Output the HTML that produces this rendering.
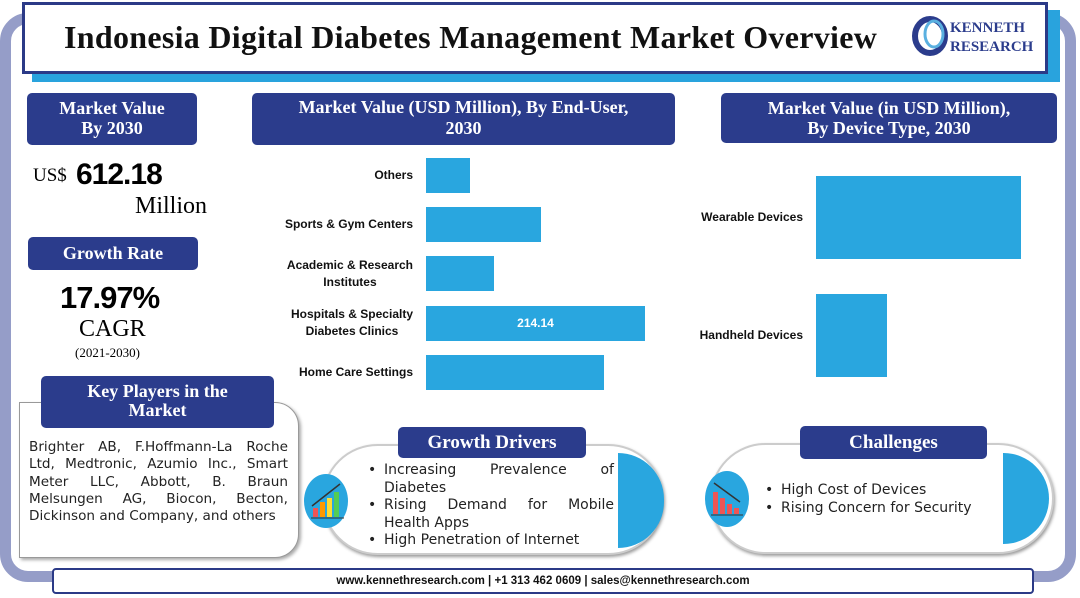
<!DOCTYPE html>
<html><head><meta charset="utf-8">
<style>
*{box-sizing:border-box;margin:0;padding:0}
body{width:1080px;height:598px;background:#fff;position:relative;overflow:hidden;font-family:"Liberation Sans",sans-serif}
.abs{position:absolute}
.navy{background:#2b3c8c;color:#fff;font-family:"Liberation Serif",serif;font-weight:bold;text-align:center;border-radius:5px}
.serif{font-family:"Liberation Serif",serif}
.lbl{position:absolute;font-size:12px;font-weight:bold;color:#111;text-align:right;line-height:17px}
.bar{position:absolute;background:#29a6df}
ul{list-style:none}
li{position:relative;padding-left:18px}
li:before{content:"•";position:absolute;left:2px}
</style></head><body>
<div class="abs" style="left:0;top:13px;width:1076px;height:569px;border:11px solid #959dc8;border-radius:28px"></div>
<div class="abs" style="left:32px;top:10px;width:1028px;height:72px;background:#29a3dd"></div>
<div class="abs" style="left:22px;top:2px;width:1026px;height:72px;background:#fff;border:3px solid #2b3a87"></div>
<div class="abs serif" style="left:64px;top:19px;font-size:32px;font-weight:bold;color:#111;letter-spacing:0.3px;white-space:nowrap">Indonesia Digital Diabetes Management Market Overview</div>
<svg class="abs" style="left:910px;top:15px" width="40" height="42"><ellipse cx="20" cy="21" rx="15" ry="17" fill="none" stroke="#2b3c8c" stroke-width="6"/><ellipse cx="24" cy="19" rx="9" ry="13" fill="none" stroke="#5ab0e0" stroke-width="3"/></svg>
<div class="abs serif" style="left:950px;top:19px;font-size:15px;font-weight:bold;color:#2b3c8c;line-height:19px">KENNETH<br>RESEARCH</div>

<div class="abs navy" style="left:27px;top:93px;width:170px;height:52px;font-size:18px;line-height:20px;padding-top:5px">Market Value<br>By 2030</div>
<div class="abs serif" style="left:33px;top:165px;font-size:19px">US$</div>
<div class="abs" style="left:76px;top:158px;font-size:30px;font-weight:bold;letter-spacing:-1px">612.18</div>
<div class="abs serif" style="left:135px;top:193px;font-size:24px">Million</div>
<div class="abs navy" style="left:28px;top:237px;width:170px;height:33px;font-size:18px;line-height:33px">Growth Rate</div>
<div class="abs" style="left:60px;top:280px;font-size:31px;font-weight:bold;letter-spacing:-1px">17.97%</div>
<div class="abs serif" style="left:79px;top:316px;font-size:24px">CAGR</div>
<div class="abs serif" style="left:75px;top:345px;font-size:13px">(2021-2030)</div>

<div class="abs" style="left:19px;top:402px;width:280px;height:156px;border:1.5px solid #999;border-radius:0 24px 24px 0;box-shadow:2px 2px 3px #aaa;background:#fff"></div>
<div class="abs navy" style="left:41px;top:376px;width:233px;height:52px;font-size:18px;line-height:19px;padding-top:6px">Key Players in the<br>Market</div>
<div class="abs" style="left:29px;top:439px;width:259px;font-family:'DejaVu Sans',sans-serif;font-size:13.6px;line-height:17.3px;text-align:justify;color:#222">Brighter AB, F.Hoffmann-La Roche Ltd, Medtronic, Azumio Inc., Smart Meter LLC, Abbott, B. Braun Melsungen AG, Biocon, Becton, Dickinson and Company, and others</div>

<div class="abs navy" style="left:252px;top:93px;width:423px;height:52px;font-size:18px;line-height:21px;padding:4px 30px 0">Market Value (USD Million), By End-User, 2030</div>
<div class="abs navy" style="left:721px;top:93px;width:336px;height:50px;font-size:18px;line-height:20px;padding-top:5px">Market Value (in USD Million),<br>By Device Type, 2030</div>

<div id="c1"></div>
<div id="c2"></div>

<div class="abs" style="left:322px;top:444px;width:342px;height:111px;border:2px solid #ccc;border-radius:56px;box-shadow:1px 2px 3px #999;background:#fff"></div>
<div class="abs" style="left:618px;top:453px;width:46px;height:95px;background:#29a6df;border-radius:0 48px 48px 0"></div>
<div class="abs" style="left:304px;top:474px;width:44px;height:54px;border-radius:50%;background:#29a6df"></div>
<svg class="abs" style="left:310px;top:480px" width="36" height="40"><rect x="3" y="28" width="5" height="9" fill="#e55"/><rect x="10" y="22" width="5" height="15" fill="#f90"/><rect x="17" y="18" width="5" height="19" fill="#fd3"/><rect x="24" y="12" width="5" height="25" fill="#5c5"/><line x1="2" y1="26" x2="30" y2="4" stroke="#333" stroke-width="1.5"/><line x1="1" y1="38" x2="34" y2="38" stroke="#333"/></svg>
<div class="abs navy" style="left:398px;top:427px;width:188px;height:31px;font-size:19px;line-height:31px">Growth Drivers</div>
<ul class="abs" style="left:366px;top:462px;width:248px;font-family:'DejaVu Sans',sans-serif;font-size:14px;line-height:17.5px;color:#222;text-align:justify">
<li>Increasing Prevalence of Diabetes</li>
<li>Rising Demand for Mobile Health Apps</li>
<li>High Penetration of Internet</li></ul>

<div class="abs" style="left:710px;top:443px;width:344px;height:111px;border:2px solid #ccc;border-radius:56px;box-shadow:1px 2px 3px #999;background:#fff"></div>
<div class="abs" style="left:1003px;top:453px;width:46px;height:91px;background:#29a6df;border-radius:0 46px 46px 0"></div>
<div class="abs" style="left:705px;top:471px;width:44px;height:56px;border-radius:50%;background:#29a6df"></div>
<svg class="abs" style="left:710px;top:480px" width="36" height="36"><rect x="3" y="12" width="5" height="22" fill="#e55"/><rect x="10" y="18" width="5" height="16" fill="#e55"/><rect x="17" y="24" width="5" height="10" fill="#e55"/><rect x="24" y="28" width="5" height="6" fill="#e55"/><line x1="4" y1="3" x2="30" y2="22" stroke="#333" stroke-width="1.5"/><line x1="1" y1="35" x2="33" y2="35" stroke="#333"/></svg>
<div class="abs navy" style="left:800px;top:426px;width:187px;height:33px;font-size:19px;line-height:33px">Challenges</div>
<ul class="abs" style="left:763px;top:482px;width:240px;font-family:'DejaVu Sans',sans-serif;font-size:14px;line-height:17.5px;color:#222">
<li>High Cost of Devices</li>
<li>Rising Concern for Security</li></ul>

<div class="abs" style="left:52px;top:568px;width:982px;height:26px;background:#fff;border:2px solid #2b3a87;border-radius:4px;font-size:11.5px;font-weight:bold;text-align:center;line-height:23px;color:#111">www.kennethresearch.com | +1 313 462 0609 | sales@kennethresearch.com</div>

<script>
const endUserCats=["Others","Sports & Gym Centers","Academic & Research Institutes","Hospitals & Specialty Diabetes Clinics","Home Care Settings"];
const endUserLabels=[["Others"],["Sports & Gym Centers"],["Academic & Research","Institutes"],["Hospitals & Specialty","Diabetes Clinics"],["Home Care Settings"]];
const endUserValues=[43,112.5,66.5,214.14,174];
const endUserShown=[null,null,null,"214.14",null];
const deviceCats=["Wearable Devices","Handheld Devices"];
const deviceValues=[454.7,157.5];

function x1(v){return v*219/214.14;}
function y1(i){return 158+i*49.2;}
function x2(v){return v*205/454.7;}
function y2(i){return 176+i*118;}

endUserValues.forEach((v,i)=>{
  const b=document.createElement('div');
  b.className='bar';
  
  
  b.style.cssText=`left:426px;top:${y1(i)}px;width:${x1(v)}px;height:35px`;
  if(endUserShown[i]){b.textContent=endUserShown[i];b.style.color='#fff';b.style.fontSize='12px';b.style.fontWeight='bold';b.style.textAlign='center';b.style.lineHeight='35px';}
  document.body.appendChild(b);
  const l=document.createElement('div');
  l.className='lbl';
  
  
  const lines=endUserLabels[i];
  l.innerHTML=lines.join('<br>');
  l.style.cssText+=`right:${1080-413}px;top:${y1(i)+17.5-lines.length*8.5}px;text-align:center`;
  document.body.appendChild(l);
});
deviceValues.forEach((v,i)=>{
  const b=document.createElement('div');
  b.className='bar';
  
  
  b.style.cssText=`left:816px;top:${y2(i)}px;width:${x2(v)}px;height:83px`;
  document.body.appendChild(b);
  const l=document.createElement('div');
  l.className='lbl';
  
  
  l.textContent=deviceCats[i];
  l.style.cssText+=`right:${1080-803}px;top:${y2(i)+33}px`;
  document.body.appendChild(l);
});
</script>
</body></html>
